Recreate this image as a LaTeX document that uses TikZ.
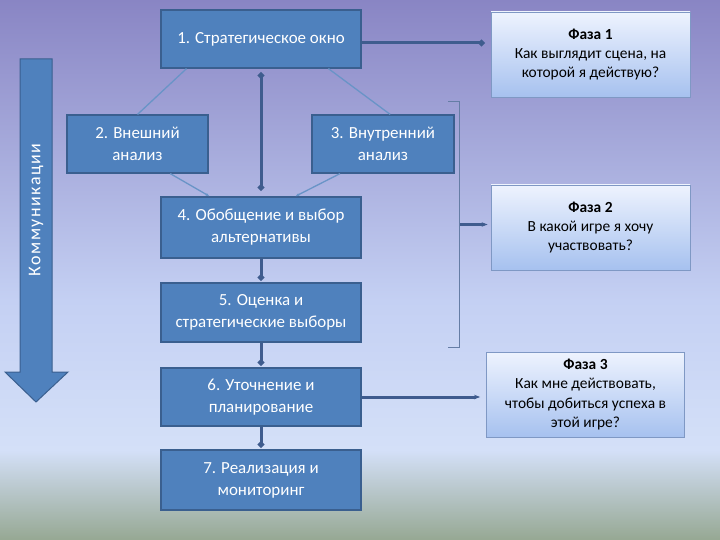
\documentclass[tikz,border=0pt]{standalone}
\usepackage{fontspec}
\setmainfont{Carlito}
\newfontfamily\razr[LetterSpace=8]{Carlito}
\usetikzlibrary{arrows.meta,positioning,calc}
\definecolor{EtapBlue}{HTML}{4F81BD}
\definecolor{EtapBorder}{HTML}{3A5F8F}
\definecolor{LinkBlue}{HTML}{3F5C8E}
\definecolor{FazaTop}{HTML}{EEF3FE}
\definecolor{FazaBottom}{HTML}{A6C1EF}
\definecolor{FazaBorder}{HTML}{7F98C4}
\definecolor{BgTop}{HTML}{8985C4}
\definecolor{BgMid}{HTML}{C4D0F3}
\definecolor{BgLow}{HTML}{D4E0F8}
\definecolor{BgBottom}{HTML}{96A893}

\begin{document}
\begin{tikzpicture}[
    x=1bp, y=-1bp,
    etap/.style={draw=EtapBorder, fill=EtapBlue, line width=1.2bp, text=white, align=center, font=\fontsize{17}{22}\selectfont, inner sep=0pt},
    faza/.style={draw=FazaBorder, top color=FazaTop, bottom color=FazaBottom, line width=0.8bp, align=center, font=\fontsize{15.5}{19.5}\selectfont, minimum width=199bp, minimum height=85bp, inner sep=0pt},
    link/.style={line width=3bp, draw=LinkBlue},
    fino/.style={line width=1.3bp, draw=EtapBlue!85!white}
]

  % Fundo
  \useasboundingbox (0,0) rectangle (720,540);
  \fill[top color=BgTop, bottom color=BgMid] (0,0) rectangle (720,300);
  \fill[top color=BgMid, bottom color=BgLow] (0,300) rectangle (720,450);
  \fill[top color=BgLow, bottom color=BgBottom] (0,450) rectangle (720,540);

  % Seta de comunicacao
  \draw[fill=EtapBlue, draw=EtapBorder, line width=1bp] (20,59) -- (52,59) -- (52,372) -- (68,372) -- (36,402) -- (5,372) -- (20,372) -- cycle;
  \node[rotate=90, text=white, font=\razr\fontsize{18}{20}\selectfont] (komm) at (36,210) {Коммуникации};

  % Etapas
  \node[etap, minimum width=200bp, minimum height=58bp] (etap1) at (261,39) {1. Стратегическое окно};
  \node[etap, minimum width=141bp, minimum height=58bp] (etap2) at (137.5,144) {2. Внешний\\анализ};
  \node[etap, minimum width=142bp, minimum height=58bp] (etap3) at (383,144) {3. Внутренний\\анализ};
  \node[etap, minimum width=200bp, minimum height=61bp] (etap4) at (261,227.5) {4. Обобщение и выбор\\альтернативы};
  \node[etap, minimum width=200bp, minimum height=59bp] (etap5) at (261,312.5) {5. Оценка и\\стратегические выборы};
  \node[etap, minimum width=200bp, minimum height=58bp] (etap6) at (261,397) {6. Уточнение и\\планирование};
  \node[etap, minimum width=200bp, minimum height=60bp] (etap7) at (261,480) {7. Реализация и\\мониторинг};

  % Fases
  \node[faza] (faza1) at (590.5,54.5) {\textbf{Фаза 1}\\Как выглядит сцена, на\\которой я действую?};
  \node[faza] (faza2) at (590.5,227.5) {\textbf{Фаза 2}\\В какой игре я хочу\\участвовать?};
  \node[faza, minimum width=198bp] (faza3) at (585.5,394.5) {\textbf{Фаза 3}\\Как мне действовать,\\чтобы добиться успеха в\\этой игре?};

  % Ligacoes finas
  \draw[fino] ($(etap1.south west)!0.13!(etap1.south east)$) -- (etap2.north);
  \draw[fino] ($(etap1.south west)!0.835!(etap1.south east)$) -- ($(etap3.north west)!0.55!(etap3.north east)$);
  \draw[fino, -{Latex[length=4bp]}] ($(etap2.south west)!0.73!(etap2.south east)$) -- ($(etap4.north west)!0.245!(etap4.north east)$);
  \draw[fino, -{Latex[length=4bp]}] ($(etap3.south west)!0.2!(etap3.south east)$) -- ($(etap4.north west)!0.67!(etap4.north east)$);

  % Ligacoes grossas
  \draw[link, {Circle[length=6bp]}-{Circle[length=6bp]}, shorten <=4bp, shorten >=6bp] (etap1.south) -- (etap4.north);
  \draw[link, -{Circle[length=6bp]}, shorten >=2bp] (etap4.south) -- (etap5.north);
  \draw[link, -{Circle[length=6bp]}, shorten >=2bp] (etap5.south) -- (etap6.north);
  \draw[link, -{Circle[length=6bp]}, shorten >=2bp] (etap6.south) -- (etap7.north);
  \draw[link, -{Circle[length=6bp]}, shorten >=6bp] ([yshift=-4bp]etap1.east) -- ([yshift=-4bp]etap1.east -| faza1.west);
  \draw[link, -{Stealth[length=6bp]}, shorten >=6bp] (etap6.east) -- (etap6.east -| faza3.west);

  % Chave das fases
  \draw[draw=LinkBlue!80, line width=1bp] (448,102) -- (459,102) -- (459,347) -- (448,347);
  \coordinate (chave) at (460,224.5);
  \draw[link, -{Stealth[length=6bp]}, shorten >=3bp] (chave) -- (chave -| faza2.west);

\end{tikzpicture}
\end{document}
